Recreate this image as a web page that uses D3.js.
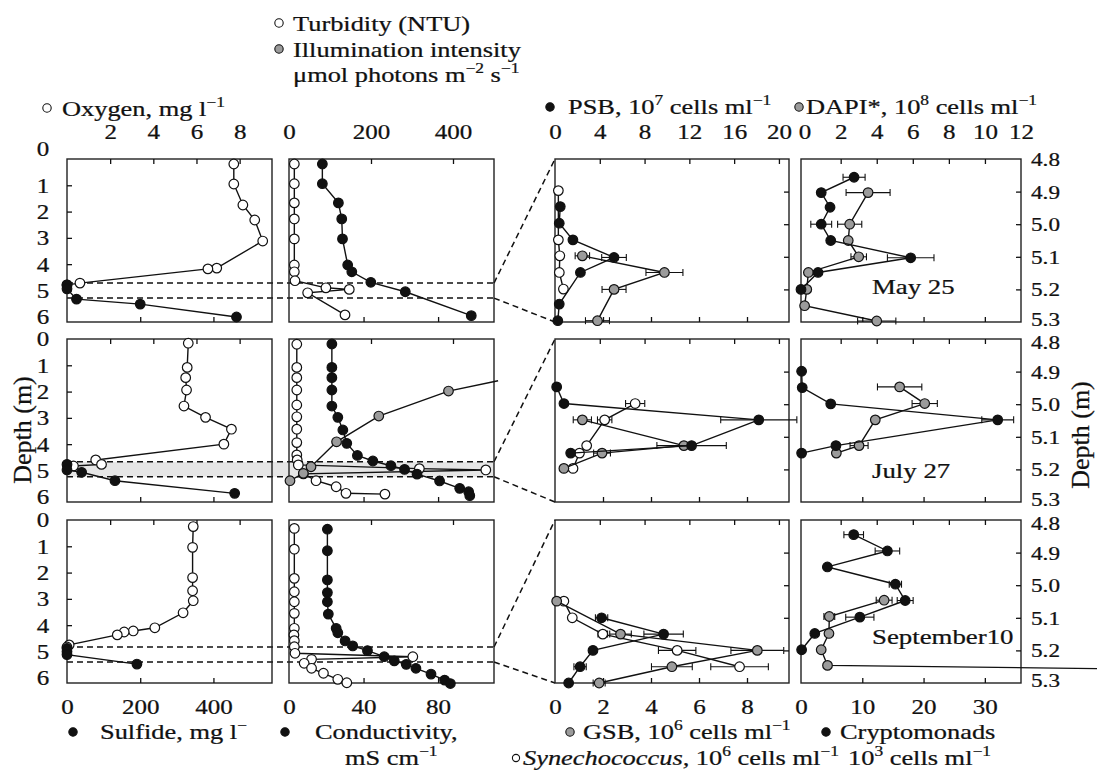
<!DOCTYPE html>
<html>
<head>
<meta charset="utf-8">
<script src="https://cdn.jsdelivr.net/npm/d3@7"></script>
<style>
  body { margin: 0; background: #fff; }
  text { font-family: "Liberation Serif", "Times New Roman", serif; fill: #111; stroke: #111; stroke-width: 0.25px; }
</style>
</head>
<body>
<svg id="chart" width="1097" height="781"></svg>
<script>
// ---------- data: [value, depth (m), error] ----------
// May 25
const oxygenMay = [[7.73,0.19],[7.73,0.95],[8.15,1.75],[8.7,2.32],[9.07,3.12],[6.94,4.15],[6.53,4.18],[0.6,4.72],[0,4.79]];
const sulfideMay = [[0,4.79],[0,4.94],[26,5.33],[200,5.52],[463,6.01]];
const turbidityMay = [[13,0.19],[13,0.94],[13,1.67],[13,2.28],[13,3.04],[13,4.03],[13,4.29],[14.6,4.63],[90,4.9],[147,4.96],[45.5,5.09],[136.6,5.93]];
const illuminationMay = [];
const conductivityMay = [[17.9,0.19],[17.9,0.94],[26.5,1.67],[28.3,2.28],[28.7,3.04],[31.5,4.03],[33.7,4.29],[43.9,4.69],[62.4,5.05],[97.8,5.96]];
const psbMay = [[0.47,4.946],[0.38,4.997],[1.6,5.048],[5.27,5.102,1.1],[2.27,5.148],[0.38,5.245],[0.25,5.296]];
const gsbMay = [[1.14,5.097,0.3],[4.56,5.148,0.77],[2.46,5.2,0.5],[1.77,5.296,0.5]];
const synechococcusMay = [[0.14,4.897],[0.14,5.048],[0.2,5.097],[0.18,5.148],[0.35,5.199]];
const cryptomonadsMay = [[8.66,4.856,1.8],[3.3,4.903],[4.74,4.948],[3.3,5.0,1.7],[4.85,5.05],[17.9,5.103,3.8],[2.78,5.148],[0,5.2]];
const dapiMay = [[3.52,4.903,1.22],[2.5,5.0,0.67],[2.42,5.05],[3.0,5.1,0.43],[0.21,5.148],[0.12,5.2],[0,5.25],[4.0,5.297,1.06]];

// July 27
const oxygenJul = [[5.62,0.16],[5.57,1.08],[5.5,1.47],[5.54,1.94],[5.42,2.55],[6.42,2.98],[7.62,3.43],[7.27,4.0],[1.33,4.6],[1.6,4.77],[0.3,4.83]];
const sulfideJul = [[0,4.77],[0,4.98],[40,5.07],[131,5.39],[458,5.87]];
const turbidityJul = [[19,0.2],[19,1.08],[19,1.47],[19,1.94],[19,2.51],[19,2.96],[19,3.43],[19,3.94],[19,4.41],[20,4.6],[22.7,4.79],[318,4.93],[480,4.98],[35,5.13],[66,5.39],[115,5.62],[139,5.87],[234,5.9]];
const illuminationJul = [[510,1.59],[389,1.98],[219,2.93],[116,3.91],[53.7,4.86],[35,5.11],[2.4,5.39]];
const conductivityJul = [[23,0.19],[23,1.08],[23,1.47],[23,1.94],[23,2.55],[26.2,2.98],[28.9,3.46],[31,3.97],[36.7,4.43],[45,4.64],[54.7,4.82],[62,4.96],[68.7,5.14],[80.8,5.4],[91.6,5.68],[96.4,5.81],[97,5.96]];
const psbJul = [[0.15,4.947],[0.8,4.998],[18.2,5.048,3.4],[12.2,5.127,3.1],[1.4,5.15]];
const gsbJul = [[1.14,5.048,0.38],[5.37,5.127],[1.96,5.15,0.35],[0.37,5.197]];
const synechococcusJul = [[3.34,4.998,0.4],[2.07,5.048,0.3],[1.32,5.127],[1.02,5.15],[0.75,5.197]];
const cryptomonadsJul = [[0.1,4.899],[0.2,4.949],[4.85,4.999],[32.1,5.048,2.6],[5.7,5.127],[0.1,5.15]];
const dapiJul = [[5.27,4.947,1.23],[6.66,4.998,0.7],[3.92,5.048],[3.02,5.127,0.5],[1.76,5.15]];

// September 10
const oxygenSep = [[5.85,0.25],[5.82,1.04],[5.82,2.19],[5.82,2.69],[5.85,3.07],[5.38,3.53],[4.07,4.1],[3.07,4.22],[2.65,4.26],[2.33,4.37],[0.1,4.75],[0,4.83]];
const sulfideSep = [[0,4.88],[0,5.0],[0,5.12],[191,5.48]];
const turbiditySep = [[13,0.32],[13,1.11],[13,2.22],[13,2.73],[13,3.11],[13,3.55],[13,4.12],[12,4.37],[13,4.59],[13,4.82],[14.6,5.07],[302,5.2],[55,5.3],[37,5.45],[55,5.64],[84,5.83],[119,6.06],[141,6.19]];
const illuminationSep = [];
const conductivitySep = [[20.6,0.35],[20.6,1.17],[20.6,2.28],[20.6,2.76],[20.6,3.11],[21.1,3.58],[25.3,4.12],[26.2,4.29],[30.1,4.6],[34.2,4.79],[42.1,4.97],[51.1,5.2],[56.5,5.36],[62.9,5.49],[68.1,5.64],[76.2,5.86],[83.5,6.09],[86.6,6.22]];
const psbSep = [[4.16,5.1,0.55],[9.7,5.15,1.76],[3.39,5.2],[2.24,5.25,0.55],[1.22,5.3]];
const gsbSep = [[0.07,5.049],[2.73,5.15,0.45],[8.43,5.2,1.1],[4.87,5.25,0.85],[1.84,5.3,0.25]];
const synechococcusSep = [[0.37,5.049],[0.72,5.1],[1.99,5.15,0.2],[5.09,5.2,0.78],[7.69,5.25,1.2]];
const cryptomonadsSep = [[8.6,4.845,1.6],[14.1,4.895,2.0],[4.3,4.944],[15.4,4.997,1.0],[17.0,5.047,1.3],[9.6,5.098,2.3],[2.25,5.148],[0.1,5.198]];
const dapiSep = [[4.41,5.046,0.44],[1.37,5.096,0.3],[1.35,5.148],[0.92,5.198],[1.27,5.246],[16.5,5.256]];

// chemocline (zoomed depth interval) per survey, m
const chemocline = [[4.72,5.29],[4.67,5.24],[4.83,5.4]];
const dates = ["May 25", "July 27", "September10"];

// axis tick labels
const depthTicks = [0,1,2,3,4,5,6];
const zoomDepthTicks = [4.8,4.9,5.0,5.1,5.2,5.3];
const oxygenTicks = [2,4,6,8];
const lightTicks = [0,200,400];
const psbTicks = [0,4,8,12,16,20];
const dapiTicks = [0,2,4,6,8,10,12];
const sulfideTicks = [0,200,400];
const conductivityTicks = [0,40,80];
const gsbTicks = [0,2,4,6,8];
const cryptoTicks = [0,10,20,30];

// ---------- layout ----------
const svg = d3.select("#chart");
svg.append("rect").attr("width",1097).attr("height",781).attr("fill","#fff");

const SX = 1.22;          // horizontal stretch of lettering
const INK = "#111", GRAY = "#9b9b9b";
const col = { c1:[67,272], c2:[289,494], c3:[555,789], c4:[801,1021] };
const rowTop = [159,339,520], rowH = 163;

const xOxygen = d3.scaleLinear().domain([0,9.5]).range(col.c1);
const xSulfide = d3.scaleLinear().domain([0,560]).range(col.c1);
const xLight = d3.scaleLinear().domain([0,500]).range(col.c2);
const xCond = d3.scaleLinear().domain([0,110]).range(col.c2);
const xPsb = d3.scaleLinear().domain([0,20.9]).range(col.c3);
const xGsb = d3.scaleLinear().domain([0,9.75]).range(col.c3);
const xDapi = d3.scaleLinear().domain([-0.2,12]).range(col.c4);
const xCrypto = d3.scaleLinear().domain([0,35.9]).range(col.c4);
const yDepth = rowTop.map(t => d3.scaleLinear().domain([0,6.2]).range([t, t+rowH]));
const yZoom = rowTop.map(t => d3.scaleLinear().domain([4.8,5.3]).range([t, t+rowH]));

const rows = [
  { c1:[[oxygenMay,"#fff"],[sulfideMay,INK]], c2:[[turbidityMay,"#fff"],[illuminationMay,GRAY],[conductivityMay,INK]],
    c3:[[synechococcusMay,"#fff"],[gsbMay,GRAY],[psbMay,INK]], c4:[[dapiMay,GRAY],[cryptomonadsMay,INK]] },
  { c1:[[oxygenJul,"#fff"],[sulfideJul,INK]], c2:[[turbidityJul,"#fff"],[illuminationJul,GRAY],[conductivityJul,INK]],
    c3:[[synechococcusJul,"#fff"],[gsbJul,GRAY],[psbJul,INK]], c4:[[dapiJul,GRAY],[cryptomonadsJul,INK]] },
  { c1:[[oxygenSep,"#fff"],[sulfideSep,INK]], c2:[[turbiditySep,"#fff"],[illuminationSep,GRAY],[conductivitySep,INK]],
    c3:[[synechococcusSep,"#fff"],[gsbSep,GRAY],[psbSep,INK]], c4:[[dapiSep,GRAY],[cryptomonadsSep,INK]] }
];
// x scale for each series slot
const scaleOf = {
  c1:[xOxygen,xSulfide], c2:[xLight,xLight,xCond], c3:[xGsb,xGsb,xPsb], c4:[xDapi,xCrypto]
};
const dateY = [5.215, 5.225, 5.18];

const bg = svg.append("g"), frames = svg.append("g"), marks = svg.append("g"), labels = svg.append("g");

// ---------- chemocline bands and connectors ----------
rows.forEach((r,i) => {
  const y = yDepth[i];
  const [d0,d1] = chemocline[i];
  if (i === 1) {
    bg.append("rect").attr("x",col.c1[0]).attr("width",col.c2[1]-col.c1[0])
      .attr("y",y(d0)).attr("height",y(d1)-y(d0)).attr("fill","#e6e6e6");
  }
  const lines = [
    [col.c1[0], y(d0), col.c2[1], y(d0)],
    [col.c1[0], y(d1), col.c2[1], y(d1)],
    [col.c2[1], y(d0), col.c3[0], rowTop[i]],
    [col.c2[1], y(d1), col.c3[0], rowTop[i]+rowH]
  ];
  lines.forEach(l => {
    frames.append("line").attr("x1",l[0]).attr("y1",l[1]).attr("x2",l[2]).attr("y2",l[3])
      .attr("stroke",INK).attr("stroke-width",1.5).attr("stroke-dasharray","6,4");
  });
});

// ---------- frames and inward ticks ----------
function inner(axisFn, scale, vals, x, y) {
  const g = frames.append("g").attr("transform",`translate(${x},${y})`)
    .call(axisFn(scale).tickValues(vals).tickSize(-5).tickFormat(""));
  g.select(".domain").remove();
  g.selectAll("line").attr("stroke",INK).attr("stroke-width",1.3);
}
rows.forEach((r,i) => {
  const t = rowTop[i], b = t + rowH;
  Object.values(col).forEach(c => {
    frames.append("rect").attr("x",c[0]).attr("y",t).attr("width",c[1]-c[0]).attr("height",rowH)
      .attr("fill","none").attr("stroke","#222").attr("stroke-width",1.4);
  });
  inner(d3.axisTop, xOxygen, oxygenTicks, 0, t);
  inner(d3.axisBottom, xSulfide, [200,400], 0, b);
  inner(d3.axisLeft, yDepth[i], [1,2,3,4,5], col.c1[0], 0);
  inner(d3.axisTop, xLight, [200,400], 0, t);
  inner(d3.axisBottom, xCond, [40,80], 0, b);
  inner(d3.axisTop, xPsb, [4,8,12,16,20], 0, t);
  inner(d3.axisBottom, xGsb, [2,4,6,8], 0, b);
  inner(d3.axisRight, yZoom[i], [4.9,5.0,5.1,5.2], col.c3[1], 0);
  inner(d3.axisTop, xDapi, [2,4,6,8,10], 0, t);
  inner(d3.axisBottom, xCrypto, [10,20,30], 0, b);
  inner(d3.axisRight, yZoom[i], [4.9,5.0,5.1,5.2], col.c4[1], 0);
});

// ---------- profiles ----------
function drawSeries(data, xs, ys, fill) {
  if (!data.length) return;
  marks.append("path").datum(data)
    .attr("d", d3.line().x(d => xs(d[0])).y(d => ys(d[1])))
    .attr("fill","none").attr("stroke",INK).attr("stroke-width",1.4);
  data.filter(d => d[2]).forEach(d => {
    const y = ys(d[1]), xa = xs(d[0]-d[2]), xb = xs(d[0]+d[2]);
    const g = marks.append("g").attr("stroke",INK).attr("stroke-width",1.1);
    g.append("line").attr("x1",xa).attr("x2",xb).attr("y1",y).attr("y2",y);
    g.append("line").attr("x1",xa).attr("x2",xa).attr("y1",y-3.5).attr("y2",y+3.5);
    g.append("line").attr("x1",xb).attr("x2",xb).attr("y1",y-3.5).attr("y2",y+3.5);
  });
  const [lo,hi] = xs.domain();
  marks.selectAll(null).data(data.filter(d => d[0] >= lo && d[0] <= hi)).enter().append("circle")
    .attr("cx", d => xs(d[0])).attr("cy", d => ys(d[1])).attr("r", 4.8)
    .attr("fill", fill).attr("stroke", INK).attr("stroke-width", 1.2);
}
rows.forEach((r,i) => {
  ["c1","c2","c3","c4"].forEach(c => {
    const ys = (c === "c1" || c === "c2") ? yDepth[i] : yZoom[i];
    r[c].forEach((s,k) => drawSeries(s[0], scaleOf[c][k], ys, s[1]));
  });
});

// ---------- tick labels ----------
function tickText(axisFn, scale, vals, x, y, fmt, anchor, size = 20.5) {
  const g = labels.append("g").attr("transform",`translate(${x},${y})`)
    .call(axisFn(scale).tickValues(vals).tickSize(0).tickPadding(0).tickFormat(fmt || d3.format("d")));
  g.attr("font-size",null).attr("font-family",null);
  g.select(".domain").remove();
  const t = g.selectAll("text").attr("font-size",size).attr("fill",INK).attr("transform",`scale(${SX},1)`);
  if (axisFn === d3.axisTop || axisFn === d3.axisBottom) t.attr("y",0).attr("dy",0);
  else t.attr("x",0).attr("dy","0.34em");
  if (anchor) t.attr("text-anchor",anchor);
  return g;
}
tickText(d3.axisTop, xOxygen, oxygenTicks, 0, 139);
tickText(d3.axisTop, xLight, lightTicks, 0, 139);
tickText(d3.axisTop, xPsb, psbTicks, 0, 139);
tickText(d3.axisTop, xDapi, dapiTicks, 0, 139);
tickText(d3.axisBottom, xSulfide, sulfideTicks, 0, 714);
tickText(d3.axisBottom, xCond, conductivityTicks, 0, 714);
tickText(d3.axisBottom, xGsb, gsbTicks, 0, 714);
tickText(d3.axisBottom, xCrypto, cryptoTicks, 0, 714);
rows.forEach((r,i) => {
  const g = tickText(d3.axisLeft, yDepth[i], depthTicks, 43, 0, null, "middle");
  if (i === 0) g.selectAll(".tick").filter(d => d === 0).select("text").attr("y",-10);
  const gr = tickText(d3.axisRight, yZoom[i], zoomDepthTicks, 1031, 0, d3.format(".1f"), null, 19);
  // keep the end labels of neighbouring panels apart
  gr.selectAll(".tick").filter(d => d === 5.3).select("text").attr("y",-3);
  gr.selectAll(".tick").filter(d => d === 4.8).select("text").attr("y", i === 0 ? 0 : 3);
  labels.append("text").attr("transform",`translate(872,${yZoom[i](dateY[i])}) scale(${SX},1)`)
    .attr("font-size",22).text(dates[i]);
});

// ---------- legends ----------
function rich(x, y, parts, size = 22) {
  const t = labels.append("text").attr("transform",`translate(${x},${y}) scale(1.2,1)`).attr("font-size",size);
  let up = false;
  parts.forEach(p => {
    const s = typeof p === "string" ? { t: p } : p;
    const ts = t.append("tspan").text(s.t);
    if (s.sup) { ts.attr("font-size", size*0.66); if (!up) { ts.attr("dy", -size*0.42); up = true; } }
    else if (up) { ts.attr("dy", size*0.42); up = false; }
    if (s.it) ts.attr("font-style","italic");
  });
  return t;
}
function dot(x, y, fill, r = 4.2) {
  labels.append("circle").attr("cx",x).attr("cy",y).attr("r",r)
    .attr("fill",fill).attr("stroke",INK).attr("stroke-width",1.1);
}
dot(279,23,"#fff"); rich(293,31,["Turbidity (NTU)"]);
dot(279,49,GRAY);   rich(293,57,["Illumination intensity"]);
rich(293,82,["\u03bcmol photons  m",{t:"\u22122",sup:true}," s",{t:"\u22121",sup:true}]);
dot(47,108,"#fff"); rich(62,116,["Oxygen, mg l",{t:"\u22121",sup:true}]);
dot(550,107,INK);   rich(568,114,["PSB, 10",{t:"7",sup:true}," cells ml",{t:"\u22121",sup:true}]);
dot(799,107,GRAY);  rich(806,114,["DAPI*, 10",{t:"8",sup:true}," cells ml",{t:"\u22121",sup:true}]);

dot(73,732,INK);    rich(100,739,["Sulfide, mg l",{t:"\u2212",sup:true}]);
dot(285,732,INK);   rich(315,739,["Conductivity,"]);
rich(345,765,["mS cm",{t:"\u22121",sup:true}]);
dot(570,732,GRAY);  rich(583,739,["GSB, 10",{t:"6",sup:true}," cells ml",{t:"\u22121",sup:true}]);
dot(826,732,INK);   rich(840,739,["Cryptomonads"]);
dot(516,758,"#fff",3.6);
rich(523,765,[{t:"Synechococcus,",it:true}," 10",{t:"6",sup:true}," cells ml",{t:"\u22121",sup:true}]);
rich(848,765,["10",{t:"3",sup:true}," cells ml",{t:"\u22121",sup:true}]);

// axis titles
labels.append("text").attr("transform",`translate(31,430) rotate(-90)`)
  .attr("text-anchor","middle").attr("font-size",26).text("Depth (m)");
labels.append("text").attr("transform",`translate(1089,435) rotate(-90)`)
  .attr("text-anchor","middle").attr("font-size",26).text("Depth (m)");
</script>
</body>
</html>
